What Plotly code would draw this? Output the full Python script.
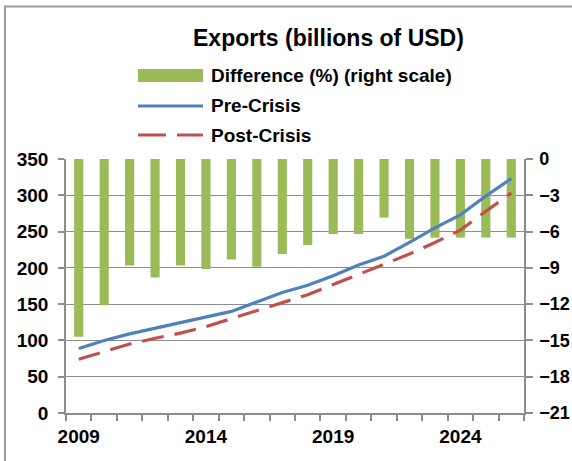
import plotly.graph_objects as go

years = list(range(2009, 2027))
diff_pct = [-14.7, -12.1, -8.8, -9.8, -8.8, -9.1, -8.3, -8.9, -7.85, -7.1,
            -6.2, -6.2, -4.85, -6.6, -6.5, -6.5, -6.5, -6.5]
pre_crisis = [89, 100, 109, 117, 124, 133, 140, 153, 166, 176,
              189, 204, 216, 235, 255, 273, 299, 323]
post_crisis = [74, 85, 95, 103, 110, 119, 130, 141, 153, 163,
               177, 191, 205, 219, 235, 252, 278, 303]
x_tick_years = [2009, 2014, 2019, 2024]
left_ticks = [0, 50, 100, 150, 200, 250, 300, 350]
right_ticks = [0, -3, -6, -9, -12, -15, -18, -21]

GREEN = "#9BBB59"
BLUE = "#4F81BD"
RED = "#C0504D"
GRID = "#8c8c8c"
FONT = "Liberation Sans, Arial, sans-serif"

W, H = 572, 461
L, R, T, B = 66, 48, 159, 48
PW, PH = W - L - R, H - T - B


def px(x):
    return (x - L) / PW


def py(y):
    return (H - B - y) / PH


x_range = [years[0] - 0.5, years[-1] + 0.5]
boundaries = [y - 0.5 for y in years] + [years[-1] + 0.5]

fig = go.Figure()
fig.add_trace(go.Bar(x=years, y=diff_pct, name="Difference (%) (right scale)",
                     marker=dict(color=GREEN, line=dict(width=0)), width=0.36,
                     yaxis="y", showlegend=False))
fig.add_trace(go.Scatter(x=years, y=pre_crisis, name="Pre-Crisis", mode="lines",
                         line=dict(color=BLUE, width=3.2), yaxis="y2", showlegend=False))
fig.add_trace(go.Scatter(x=years, y=post_crisis, name="Post-Crisis", mode="lines",
                         line=dict(color=RED, width=3.2, dash="22px,11px"),
                         yaxis="y2", showlegend=False))

tickfont = dict(family=FONT, size=19, color="black", weight=700)
rtickfont = dict(family=FONT, size=18, color="black", weight=700)

fig.update_layout(
    width=W, height=H,
    margin=dict(l=L, r=R, t=T, b=B, pad=0, autoexpand=False),
    paper_bgcolor="white", plot_bgcolor="white",
    showlegend=False,
    xaxis=dict(range=x_range, tickvals=x_tick_years,
               ticktext=[str(v) for v in x_tick_years], ticks="",
               showgrid=False, zeroline=False, showline=True, linecolor=GRID,
               linewidth=1.5, tickfont=tickfont, ticklabelstandoff=5,
               automargin=False,
               minor=dict(tickvals=boundaries, ticks="outside", ticklen=6,
                          tickcolor=GRID, tickwidth=1.5, showgrid=False)),
    xaxis2=dict(range=x_range, overlaying="x", anchor="y", side="bottom",
                tickvals=boundaries, showticklabels=False, ticks="outside",
                ticklen=6, tickcolor=GRID, tickwidth=1.5, showgrid=False,
                zeroline=False, showline=False, automargin=False),
    yaxis=dict(range=[-21, 0], tickvals=right_ticks, side="right",
               showgrid=True, gridcolor=GRID, gridwidth=1, zeroline=False,
               showline=True, linecolor=GRID, linewidth=1.5, ticks="outside",
               ticklen=7, tickcolor=GRID, tickwidth=1.5, tickfont=rtickfont,
               ticklabelstandoff=3, automargin=False),
    yaxis2=dict(range=[0, 350], tickvals=left_ticks, side="left", overlaying="y",
                showgrid=False, zeroline=False, showline=True, linecolor=GRID,
                linewidth=1.5, ticks="outside", ticklen=6, tickcolor=GRID,
                tickwidth=1.5, tickfont=tickfont, ticklabelstandoff=6,
                automargin=False),
)

# chart border
fig.add_shape(type="rect", xref="paper", yref="paper",
              x0=px(5), x1=px(W + 20), y0=py(H + 20), y1=py(6.5),
              line=dict(color="#9a9a9a", width=2), fillcolor="rgba(0,0,0,0)",
              layer="below")

# title
fig.add_annotation(text="Exports (billions of USD)", xref="paper", yref="paper",
                   x=px(328), y=py(38), xanchor="center", yanchor="middle",
                   showarrow=False,
                   font=dict(family=FONT, size=23, color="black", weight=700))

# legend
legend_items = [("Difference (%) (right scale)", 76),
                ("Pre-Crisis", 106),
                ("Post-Crisis", 135)]
fig.add_shape(type="rect", xref="paper", yref="paper",
              x0=px(138), x1=px(203), y0=py(82), y1=py(69),
              fillcolor=GREEN, line=dict(width=0))
fig.add_shape(type="line", xref="paper", yref="paper",
              x0=px(138), x1=px(203), y0=py(106), y1=py(106),
              line=dict(color=BLUE, width=3))
fig.add_shape(type="line", xref="paper", yref="paper",
              x0=px(138), x1=px(203), y0=py(135), y1=py(135),
              line=dict(color=RED, width=3, dash="28px,11px"))
for label, yy in legend_items:
    fig.add_annotation(text=label, xref="paper", yref="paper",
                       x=px(209), y=py(yy), xanchor="left", yanchor="middle",
                       showarrow=False,
                       font=dict(family=FONT, size=19, color="black", weight=700))

fig.write_html("out.html", config={"displayModeBar": False})

with open("out.html", "r", encoding="utf-8") as f:
    html = f.read()
html = html.replace("<head>", "<head><style>html,body{margin:0;padding:0;overflow:hidden;}</style>", 1)
with open("out.html", "w", encoding="utf-8") as f:
    f.write(html)
